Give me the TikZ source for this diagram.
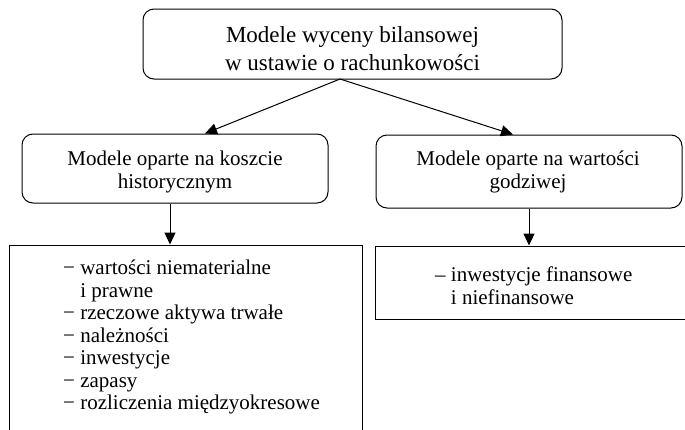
\documentclass[tikz,border=0pt]{standalone}
\usepackage{fontspec}
\setmainfont{Liberation Serif}
\usetikzlibrary{arrows.meta}
\begin{document}
\begin{tikzpicture}[x=1pt,y=-1pt,
  rbox/.style={draw, line width=1pt, rounded corners=11pt, inner sep=0pt},
  sbox/.style={draw, line width=1pt, inner sep=0pt},
  txt/.style={inner sep=0pt},
  arr/.style={line width=1pt, -{Triangle[length=12pt,width=11pt]}},
  bigfont/.style={font=\fontsize{23}{28}\selectfont},
  midfont/.style={font=\fontsize{21}{23}\selectfont},
  listfont/.style={font=\fontsize{21}{22.5}\selectfont}]
\useasboundingbox (0,0) rectangle (685,429);
\clip (0,0) rectangle (685,429);
% boxes
\node[rbox, minimum width=419pt, minimum height=70pt] (top) at (352.5,44) {};
\node[rbox, minimum width=306pt, minimum height=69pt] (lm) at (175,168.5) {};
\node[rbox, minimum width=306pt, minimum height=73pt] (rm) at (529,171.5) {};
\node[sbox, minimum width=353pt, minimum height=200pt] (lb) at (185.5,345) {};
\node[sbox, minimum width=320pt, minimum height=73pt] (rb) at (535,282.5) {};
% texts
\node[txt, bigfont, anchor=base] (toptxt) at (352.5,42)
  {\begin{tabular}[t]{@{}c@{}}Modele wyceny bilansowej\\w ustawie o rachunkowości\end{tabular}};
\node[txt, midfont, anchor=base] (lmtxt) at (175,165)
  {\begin{tabular}[t]{@{}c@{}}Modele oparte na koszcie\\historycznym\end{tabular}};
\node[txt, midfont, anchor=base] (rmtxt) at (528,165)
  {\begin{tabular}[t]{@{}c@{}}Modele oparte na wartości\\godziwej\end{tabular}};
\node[txt, listfont, anchor=base west] (lbtxt) at (63,274.5)
  {\begin{tabular}[t]{@{}l@{}}−\ wartości niematerialne\\
   \phantom{−\ }i prawne\\
   −\ rzeczowe aktywa trwałe\\
   −\ należności\\
   −\ inwestycje\\
   −\ zapasy\\
   −\ rozliczenia międzyokresowe\end{tabular}};
\node[txt, listfont, anchor=base west] (rbtxt) at (435,281.5)
  {\begin{tabular}[t]{@{}l@{}}–\ inwestycje finansowe\\
   \phantom{–\ }i niefinansowe\end{tabular}};
% connectors
\coordinate (split) at (340,79);
\draw[arr] (split) -- (205,0 |- lm.north);
\draw[arr] (split) -- (513,0 |- rm.north);
\draw[arr] (170,0 |- lm.south) -- (170,0 |- lb.north);
\draw[arr] (529,0 |- rm.south) -- (529,0 |- rb.north);
\end{tikzpicture}
\end{document}
